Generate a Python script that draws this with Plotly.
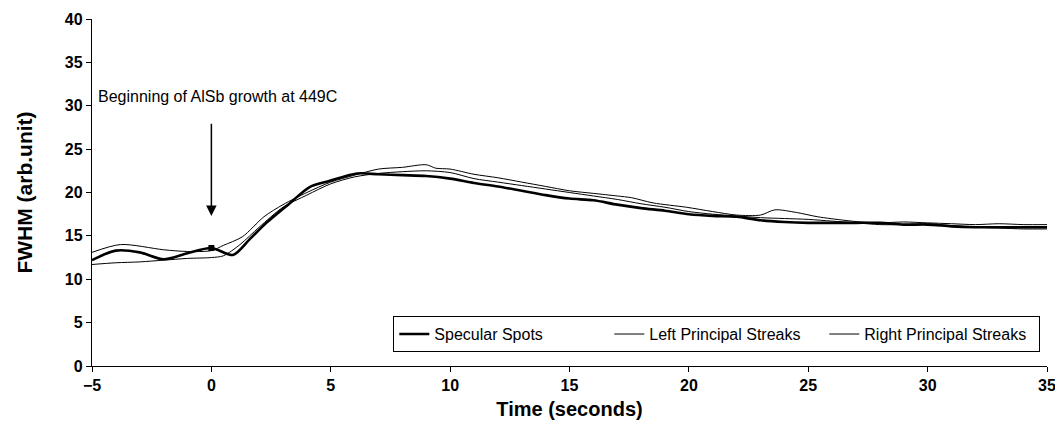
import plotly.graph_objects as go

# Specular Spots (thick line)
spec_t = [-5, -4, -3, -2, -1, 0, 0.9, 1.6, 2.3, 3.3, 4.1, 4.9, 6.1, 7, 8, 9, 10, 11, 12, 13, 14, 15, 16, 17, 18, 19,
          20, 21, 22, 23, 24, 25, 26, 27, 28, 29, 30, 31, 32, 33, 34, 35]
spec_v = [12.2, 13.3, 13.1, 12.3, 13.0, 13.6, 12.8, 14.6, 16.5, 18.8, 20.6, 21.3, 22.2, 22.1, 22.0, 21.9, 21.6, 21.1,
          20.7, 20.2, 19.7, 19.3, 19.1, 18.6, 18.2, 17.9, 17.5, 17.3, 17.2, 16.8, 16.6, 16.5, 16.5, 16.5, 16.5, 16.3,
          16.3, 16.1, 16.0, 16.0, 16.0, 16.0]

# Left Principal Streaks (thin)
left_t = [-5, -3.8, -2, -1, 0, 0.5, 1.3, 2.2, 3, 4, 5, 6, 7, 8, 9, 9.4, 10, 11, 12, 13, 14, 15, 16, 17, 17.6, 18.5,
          19.9, 21, 22, 23, 23.6, 24.5, 25.4, 26.5, 27.2, 28, 29, 30, 31, 32, 33, 34, 35]
left_v = [13.1, 14.0, 13.4, 13.2, 13.3, 13.9, 14.9, 17.2, 18.6, 20.0, 21.2, 22.0, 22.7, 22.9, 23.2, 22.8, 22.7, 22.1,
          21.7, 21.2, 20.7, 20.2, 19.9, 19.6, 19.4, 18.8, 18.3, 17.8, 17.4, 17.4, 18.0, 17.7, 17.2, 16.8, 16.6, 16.5,
          16.6, 16.5, 16.4, 16.3, 16.4, 16.3, 16.3]

# Right Principal Streaks (thin)
right_t = [-5, -4, -3, -2, -1, 0, 0.5, 1.2, 2, 3, 4, 5, 6, 7, 8, 9, 10, 11, 12, 13, 14, 15, 16, 17, 18, 19, 20, 21,
           22, 23, 24, 25, 26, 27, 28, 29, 30, 31, 32, 33, 34, 35]
right_v = [11.7, 11.9, 12.0, 12.2, 12.4, 12.5, 12.7, 14.0, 16.0, 18.3, 19.7, 21.0, 21.8, 22.2, 22.4, 22.5, 22.3, 21.6,
           21.2, 20.8, 20.4, 20.0, 19.6, 19.2, 18.7, 18.3, 17.8, 17.5, 17.3, 17.1, 17.0, 16.9, 16.7, 16.5, 16.3, 16.3,
           16.4, 16.2, 16.0, 15.9, 15.8, 15.8]

# Growth start marker
mark_t = [0]
mark_v = [13.6]

x_ticks = [-5, 0, 5, 10, 15, 20, 25, 30, 35]
y_ticks = [0, 5, 10, 15, 20, 25, 30, 35, 40]

FONT = "Liberation Sans, Arial, sans-serif"

fig = go.Figure()
fig.add_trace(go.Scatter(x=spec_t, y=spec_v, mode="lines", name="Specular Spots",
                         line=dict(color="black", width=2.6, shape="spline", smoothing=0.8)))
fig.add_trace(go.Scatter(x=left_t, y=left_v, mode="lines", name="Left Principal Streaks",
                         line=dict(color="black", width=1, shape="spline", smoothing=0.8)))
fig.add_trace(go.Scatter(x=right_t, y=right_v, mode="lines", name="Right Principal Streaks",
                         line=dict(color="black", width=1, shape="spline", smoothing=0.8)))
fig.add_trace(go.Scatter(x=mark_t, y=mark_v, mode="markers", showlegend=False,
                         marker=dict(symbol="square", size=6, color="black")))

fig.add_annotation(x=-4.85, y=31.1, xref="x", yref="y", text="Beginning of AlSb growth at 449C",
                   showarrow=False, xanchor="left", yanchor="middle",
                   font=dict(family=FONT, size=16, color="black"))
fig.add_annotation(x=0, y=17.3, ax=0, ay=28.1, xref="x", yref="y", axref="x", ayref="y",
                   text="", showarrow=True, arrowhead=2, arrowsize=1.4, arrowwidth=1.5, arrowcolor="black")

fig.update_layout(
    width=1055, height=427,
    margin=dict(l=92, r=8, t=19, b=61, autoexpand=False),
    paper_bgcolor="white", plot_bgcolor="white",
    font=dict(family=FONT, color="black"),
    showlegend=True,
    legend=dict(orientation="h", x=0.993, xanchor="right", y=0.04, yanchor="bottom",
                bordercolor="black", borderwidth=1, bgcolor="white",
                font=dict(family=FONT, size=16, color="black"), itemwidth=30,
                entrywidth=170, tracegroupgap=0),
    xaxis=dict(range=[-5, 35], tickvals=x_ticks, ticks="outside", ticklen=5, tickcolor="black",
               showline=True, linecolor="black", linewidth=1.3, showgrid=False, zeroline=False,
               ticklabeloverflow="allow", automargin=False,
               tickfont=dict(family=FONT, size=16, color="black", weight="bold"),
               title=dict(text="Time (seconds)", standoff=8,
                          font=dict(family=FONT, size=20, color="black", weight="bold"))),
    yaxis=dict(range=[0, 40], tickvals=y_ticks, ticks="outside", ticklen=5, tickcolor="black",
               showline=True, linecolor="black", linewidth=1.3, showgrid=False, zeroline=False,
               ticklabeloverflow="allow", automargin=False,
               tickfont=dict(family=FONT, size=16, color="black", weight="bold"),
               title=dict(text="FWHM (arb.unit)", standoff=26,
                          font=dict(family=FONT, size=21, color="black", weight="bold"))),
)

fig.write_html("out.html")
